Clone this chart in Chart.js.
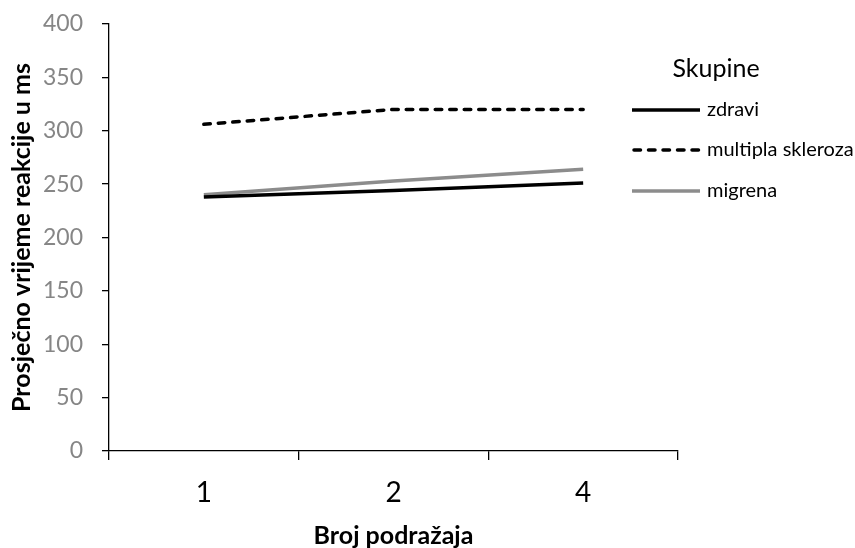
<!DOCTYPE html>
<html>
<head>
<meta charset="utf-8">
<script src="https://cdn.jsdelivr.net/npm/chart.js@4"></script>
<style>
  html, body { margin: 0; padding: 0; background: #fff; }
  #wrap { width: 855px; height: 548px; }
</style>
</head>
<body>
<div id="wrap"><canvas id="chart-canvas"></canvas></div>
<script>
// podaci
const categories = ['1', '2', '4'];
const seriesNames = ['zdravi', 'multipla skleroza', 'migrena'];
const zdravi = [238, 244, 251];
const multiplaSkleroza = [306, 320, 320];
const migrena = [240, 253, 264];
const legendTitle = 'Skupine';
const xTitle = 'Broj podražaja';
const yTitle = 'Prosječno vrijeme reakcije u ms';

// legenda crtana ručno (preklapa se s područjem grafa kao u originalu)
const skupineLegend = {
  id: 'skupineLegend',
  afterDraw(chart) {
    const ctx = chart.ctx;
    const rows = [110, 150, 191];
    ctx.save();
    ctx.fillStyle = '#000';
    ctx.font = '25px Lato';
    ctx.textAlign = 'center';
    ctx.textBaseline = 'middle';
    ctx.fillText(legendTitle, 716, 69);

    ctx.font = '20px Lato';
    ctx.textAlign = 'left';
    chart.data.datasets.forEach((ds, i) => {
      const y = rows[i];
      ctx.strokeStyle = ds.borderColor;
      ctx.lineWidth = ds.borderWidth;
      ctx.setLineDash(ds.borderDash || []);
      ctx.lineCap = ds.borderCapStyle || 'butt';
      ctx.beginPath();
      ctx.moveTo(ds.borderDash ? 634 : 632, y);
      ctx.lineTo(700, y);
      ctx.stroke();
      ctx.setLineDash([]);
      ctx.fillText(ds.label, 707, y);
    });
    ctx.restore();
  }
};

const ctx = document.getElementById('chart-canvas').getContext('2d');
new Chart(ctx, {
  type: 'line',
  data: {
    labels: categories,
    datasets: [
      {
        label: seriesNames[0],
        data: zdravi,
        borderColor: '#000000',
        borderWidth: 3.5,
        pointRadius: 0,
        tension: 0
      },
      {
        label: seriesNames[1],
        data: multiplaSkleroza,
        borderColor: '#000000',
        borderWidth: 3.5,
        borderDash: [6.5, 8],
        borderCapStyle: 'round',
        pointRadius: 0,
        tension: 0
      },
      {
        label: seriesNames[2],
        data: migrena,
        borderColor: '#8c8c8c',
        borderWidth: 3.5,
        pointRadius: 0,
        tension: 0
      }
    ]
  },
  options: {
    responsive: true,
    maintainAspectRatio: false,
    animation: false,
    layout: {
      padding: { top: 24, right: 177, bottom: 0, left: 0 }
    },
    plugins: {
      legend: { display: false },
      tooltip: { enabled: false }
    },
    scales: {
      x: {
        offset: true,
        afterFit: function(scale) { scale.height = 97; },
        grid: {
          offset: true,
          drawOnChartArea: false,
          drawTicks: true,
          tickLength: 9,
          color: '#000',
          lineWidth: 1.3
        },
        border: { display: true, color: '#000', width: 1.3 },
        ticks: {
          color: '#000',
          padding: 16,
          font: { family: 'Lato', size: 28 }
        },
        title: {
          display: true,
          text: xTitle,
          color: '#000',
          padding: { top: 0, bottom: 0 },
          font: { family: 'Lato', size: 25, weight: 'bold', lineHeight: 1 }
        }
      },
      y: {
        min: 0,
        max: 400,
        afterFit: function(scale) {
          scale.width = 109;
          scale.paddingTop = 10;
          scale.paddingBottom = 10;
        },
        grid: {
          drawOnChartArea: false,
          drawTicks: true,
          tickLength: 7,
          color: '#000',
          lineWidth: 1.3
        },
        border: { display: true, color: '#000', width: 1.3 },
        ticks: {
          stepSize: 50,
          color: '#868686',
          padding: 19,
          font: { family: 'Lato', size: 23 }
        },
        title: {
          display: true,
          text: yTitle,
          color: '#000',
          padding: { top: 9, bottom: 0 },
          font: { family: 'Lato', size: 25, weight: 'bold', lineHeight: 1 }
        }
      }
    }
  },
  plugins: [skupineLegend]
});
</script>
</body>
</html>
